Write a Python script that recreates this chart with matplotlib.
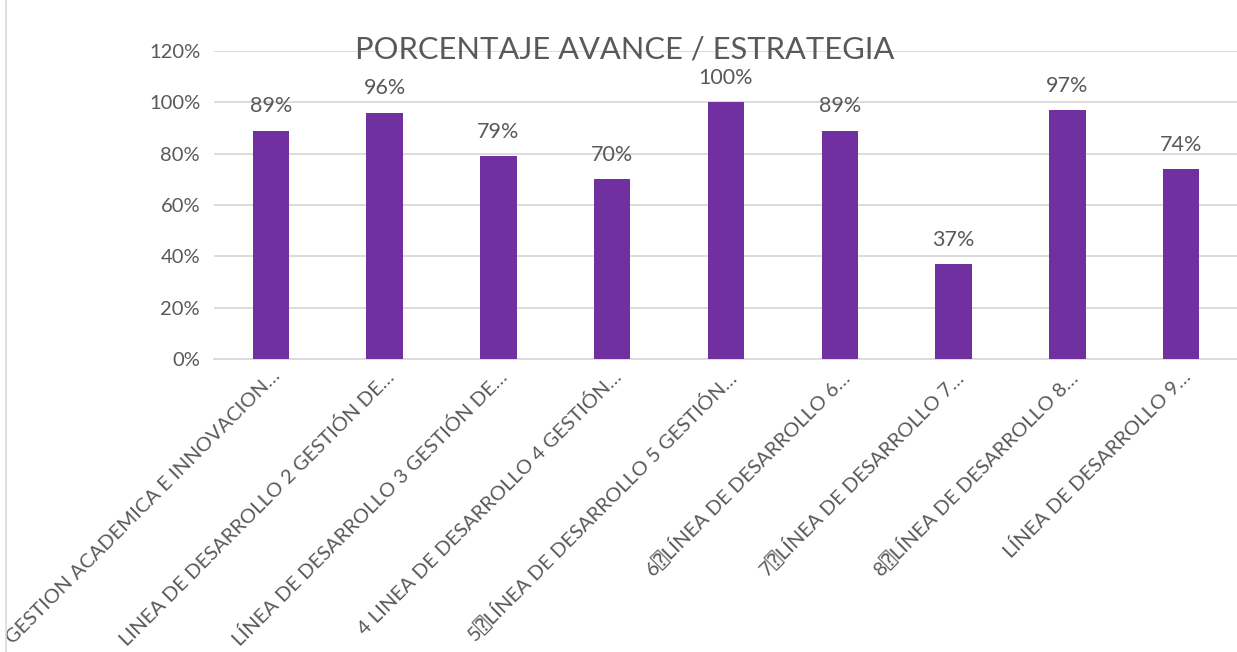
import matplotlib
matplotlib.use("Agg")
import matplotlib.pyplot as plt
from matplotlib.ticker import FuncFormatter, MultipleLocator
from matplotlib.lines import Line2D

categories = [
    "GESTION ACADEMICA E INNOVACION…",
    "LINEA DE DESARROLLO 2 GESTIÓN DE…",
    "LÍNEA DE DESARROLLO 3 GESTIÓN DE…",
    "4 LINEA DE DESARROLLO 4 GESTIÓN…",
    "5\u2370LÍNEA DE DESARROLLO 5 GESTIÓN…",
    "6\u2370LÍNEA DE DESARROLLO 6…",
    "7\u2370LÍNEA DE DESARROLLO 7…",
    "8\u2370LÍNEA DE DESARROLLO 8…",
    "LÍNEA DE DESARROLLO 9…",
]
values = [0.89, 0.96, 0.79, 0.70, 1.00, 0.89, 0.37, 0.97, 0.74]
title = "PORCENTAJE AVANCE / ESTRATEGIA"

fams = ['Lato', 'DejaVu Sans', 'DejaVu Sans Mono']
plt.rcParams['font.family'] = fams
text_color = "#595959"
bar_color = "#7030A0"
grid_color = "#D9D9D9"

fig = plt.figure(figsize=(12.37, 6.52), dpi=100)
ax = fig.add_axes([214/1237, 1 - 359/652, (1238-214)/1237, (359-51)/652])

x = list(range(len(categories)))
ax.bar(x, values, width=0.32, color=bar_color, zorder=3)
ax.set_xlim(-0.5, len(categories) - 0.5)
ax.set_ylim(0, 1.2)
ax.yaxis.set_major_locator(MultipleLocator(0.2))
ax.yaxis.set_major_formatter(FuncFormatter(lambda v, p: f"{v*100:.0f}%"))
ax.grid(axis='y', color=grid_color, linewidth=1.3, zorder=0)
for s in ['top', 'right', 'left']:
    ax.spines[s].set_visible(False)
ax.spines['bottom'].set_color(grid_color)
ax.spines['bottom'].set_linewidth(1.3)
ax.tick_params(axis='y', length=0, labelsize=14.5, colors=text_color, pad=10)
ax.tick_params(axis='x', length=0, colors=text_color, pad=6)
ax.set_xticks(x)
ax.set_xticklabels(categories, rotation=45, ha='right', va='top',
                   rotation_mode='anchor', fontsize=14.5, color=text_color)
for lbl in ax.get_xticklabels():
    lbl.set_family(fams)

for xi, v in zip(x, values):
    ax.text(xi, v + 0.055, f"{v*100:.0f}%", ha='center', va='bottom',
            fontsize=15.5, color=text_color, zorder=4)

fig.text(0.505, 1 - 50/652, title, ha='center', va='center', fontsize=22.2,
         color=text_color)

fig.add_artist(Line2D([6/1237, 6/1237], [0, 1], color="#D9D9D9", linewidth=1.2,
                      transform=fig.transFigure))

fig.savefig("out.png", dpi=100)
